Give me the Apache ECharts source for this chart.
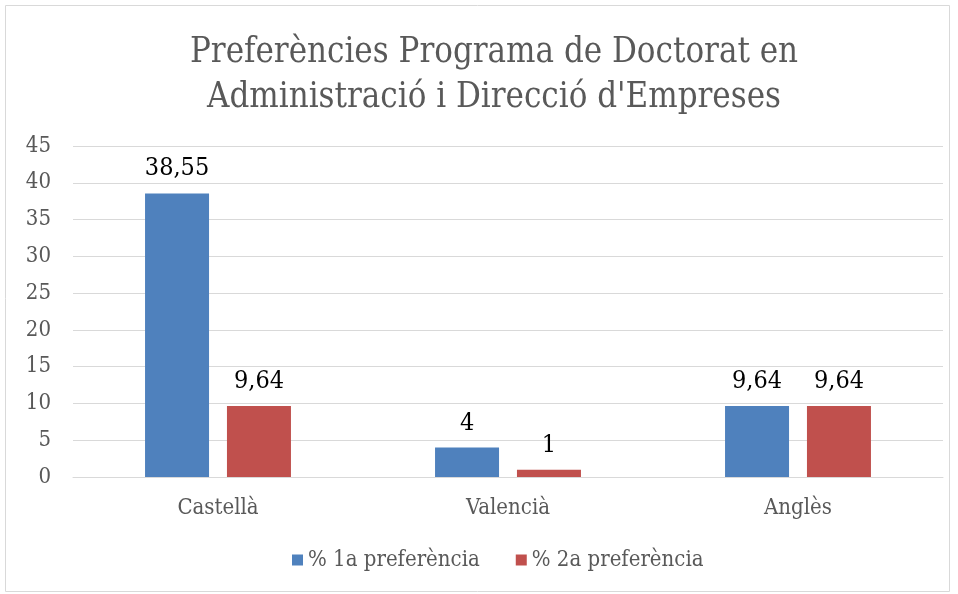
<!DOCTYPE html>
<html><head><meta charset="utf-8">
<script src="https://cdn.jsdelivr.net/npm/echarts@6/dist/echarts.min.js"></script>
<style>html,body{margin:0;padding:0;background:#fff}#c{width:958px;height:594px}</style>
</head><body><div id="c"></div>
<script>
var categories = ['Castellà', 'Valencià', 'Anglès'];
var serie1Name = '% 1a preferència';
var serie2Name = '% 2a preferència';
var serie1 = [38.55, 4, 9.64];
var serie2 = [9.64, 1, 9.64];
var yTicks = [0, 5, 10, 15, 20, 25, 30, 35, 40, 45];

var FONT = '"DejaVu Serif Condensed", "DejaVu Serif", serif';
var chart = echarts.init(document.getElementById('c'));
function fmt(p){ return String(p.value).replace('.', ','); }
chart.setOption({
  animation: false,
  graphic: [{type:'rect', shape:{x:5.5,y:5.5,width:944,height:586}, style:{fill:'none', stroke:'#d9d9d9', lineWidth:1}, silent:true}],
  title: {
    text: 'Preferències Programa de Doctorat en\nAdministració i Direcció d\'Empreses',
    left: 489, textAlign: 'center', top: 26,
    textStyle: {fontFamily: FONT, fontWeight: 'normal', fontSize: 34.5, color: '#595959', lineHeight: 45}
  },
  legend: {
    bottom: 18, left: 287, itemWidth: 11, itemHeight: 11, itemGap: 36,
    icon: 'rect',
    textStyle: {fontFamily: FONT, fontSize: 22, color: '#595959'},
    data: [serie1Name, serie2Name]
  },
  grid: {left: 73, right: 15, top: 146, bottom: 117, containLabel: false},
  xAxis: {
    type: 'category', data: categories,
    axisTick: {show: false},
    axisLine: {lineStyle: {color: '#d9d9d9'}},
    axisLabel: {fontFamily: FONT, fontSize: 22, color: '#595959', margin: 20}
  },
  yAxis: {
    type: 'value', min: 0, max: 45, interval: 5,
    axisLabel: {fontFamily: FONT, fontSize: 22, color: '#595959', margin: 22,
      formatter: function(v){ return yTicks.indexOf(v) >= 0 ? String(v) : ''; }},
    splitLine: {lineStyle: {color: '#d9d9d9'}},
    axisLine: {show: false}, axisTick: {show: false}
  },
  series: [
    {name: serie1Name, type: 'bar', data: serie1, barWidth: 64, barGap: '28%',
     itemStyle: {color: '#4F81BD'},
     label: {show: true, position: 'top', distance: 12, formatter: fmt, fontFamily: FONT, fontSize: 25, color: '#000'}},
    {name: serie2Name, type: 'bar', data: serie2, barWidth: 64,
     itemStyle: {color: '#C0504D'},
     label: {show: true, position: 'top', distance: 12, formatter: fmt, fontFamily: FONT, fontSize: 25, color: '#000'}}
  ]
});
</script></body></html>
